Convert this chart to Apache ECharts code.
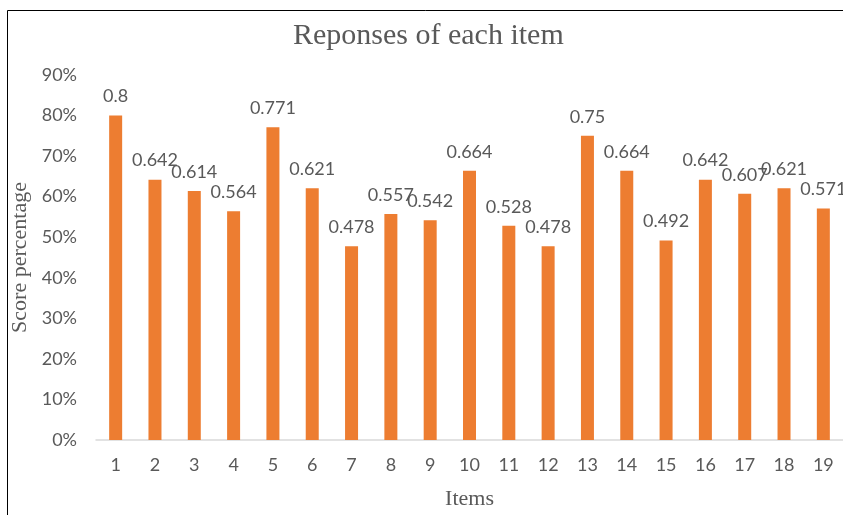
<!DOCTYPE html>
<html>
<head>
<meta charset="utf-8">
<script src="https://cdn.jsdelivr.net/npm/echarts@6/dist/echarts.min.js"></script>
<style>
  html, body { margin: 0; padding: 0; background: #fff; }
  #chart { width: 843px; height: 515px; }
</style>
</head>
<body>
<div id="chart"></div>
<script>
// items on x axis
var items = ['1', '2', '3', '4', '5', '6', '7', '8', '9', '10', '11', '12', '13', '14', '15', '16', '17', '18', '19'];
// score per item (fraction)
var scores = [0.8, 0.642, 0.614, 0.564, 0.771, 0.621, 0.478, 0.557, 0.542, 0.664, 0.528, 0.478, 0.75, 0.664, 0.492, 0.642, 0.607, 0.621, 0.571];
var yMax = 0.9;
var yStep = 0.1;

var labelFont = 'Lato, "Open Sans", sans-serif';
var serif = '"Liberation Serif", "DejaVu Serif", serif';

var chart = echarts.init(document.getElementById('chart'));
chart.setOption({
    animation: false,
    // frame of the original picture (cropped on right/bottom)
    graphic: [{
        type: 'rect',
        shape: { x: 7.5, y: 10.5, width: 1000, height: 700 },
        style: { fill: 'none', stroke: '#000', lineWidth: 1 },
        silent: true
    }],
    title: {
        text: 'Reponses of each item',
        left: 288,
        top: 16,
        textStyle: { fontFamily: serif, fontSize: 30, fontWeight: 'normal', color: '#595959' }
    },
    grid: { left: 96, right: -3, top: 75, bottom: 74, containLabel: false },
    xAxis: {
        type: 'category',
        data: items,
        name: 'Items',
        nameLocation: 'middle',
        nameGap: 48,
        nameTextStyle: { fontFamily: serif, fontSize: 22, color: '#595959' },
        axisLine: { lineStyle: { color: '#d9d9d9', width: 1.5 } },
        axisTick: { show: false },
        axisLabel: { fontFamily: labelFont, fontSize: 18, color: '#595959', margin: 16 }
    },
    yAxis: {
        type: 'value',
        min: 0,
        max: yMax,
        interval: yStep,
        name: 'Score percentage',
        nameLocation: 'middle',
        nameGap: 56,
        nameTextStyle: { fontFamily: serif, fontSize: 22, color: '#595959' },
        splitLine: { show: false },
        axisLine: { show: false },
        axisTick: { show: false },
        axisLabel: {
            fontFamily: labelFont, fontSize: 18, color: '#595959', margin: 19,
            formatter: function (v) { return Math.round(v * 100) + '%'; }
        }
    },
    series: [{
        type: 'bar',
        data: scores,
        barWidth: 13,
        itemStyle: { color: '#ed7d31' },
        label: {
            show: true,
            position: 'top',
            distance: 10,
            fontFamily: labelFont,
            fontSize: 18,
            color: '#595959'
        }
    }]
});
</script>
</body>
</html>
